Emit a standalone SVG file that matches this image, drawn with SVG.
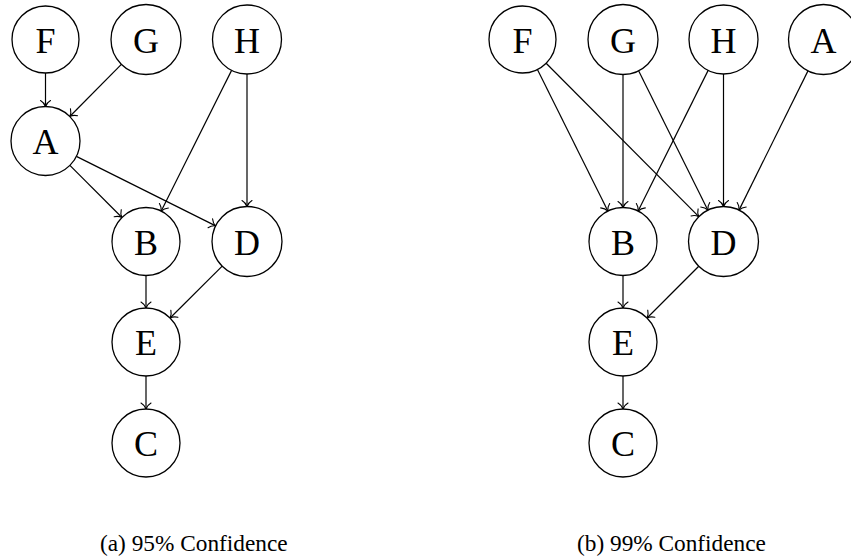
<svg xmlns="http://www.w3.org/2000/svg" width="851" height="559" viewBox="0 0 851 559">
<style>
.node circle{fill:#fff;stroke:#000;stroke-width:1.3}
.node text{font-family:"Liberation Serif","Times New Roman",serif;font-size:36px;text-anchor:middle;fill:#000}
.edges line{stroke:#000;stroke-width:1.2;marker-end:url(#arr)}
.cap{font-family:"Liberation Serif","Times New Roman",serif;font-size:23.3px;fill:#000}
</style>
<defs>
<marker id="arr" markerUnits="userSpaceOnUse" viewBox="-8 -7 10 14" refX="0" refY="0" markerWidth="10" markerHeight="14" orient="auto" overflow="visible">
<path d="M -6,-5 C -4,-1.6 -1.2,-0.4 0,0 C -1.2,0.4 -4,1.6 -6,5" fill="none" stroke="#000" stroke-width="1.1" stroke-linecap="round"/>
</marker>
</defs>
<g id="connectors" class="edges">
<line x1="45.5" y1="73" x2="45.5" y2="106.5"/>
<line x1="121.37" y1="64.37" x2="69.77" y2="116.48"/>
<line x1="231.57" y1="70.36" x2="161.2" y2="211.09"/>
<line x1="247" y1="74" x2="247" y2="206.5"/>
<line x1="69.9" y1="165.4" x2="121.96" y2="217.46"/>
<line x1="76.37" y1="156.4" x2="215.68" y2="225.88"/>
<line x1="146" y1="275.5" x2="146" y2="308"/>
<line x1="222.19" y1="266.19" x2="170.1" y2="318.02"/>
<line x1="146" y1="376" x2="146" y2="409"/>
<line x1="537.42" y1="69.49" x2="607.86" y2="211.06"/>
<line x1="546.13" y1="63.25" x2="698.81" y2="216.69"/>
<line x1="623" y1="74.5" x2="623" y2="207.5"/>
<line x1="638.59" y1="70.84" x2="707.91" y2="210.16"/>
<line x1="708.13" y1="70.39" x2="638.14" y2="211.06"/>
<line x1="723.5" y1="74" x2="723.5" y2="206.5"/>
<line x1="807.97" y1="70.87" x2="739.03" y2="210.13"/>
<line x1="623" y1="275.5" x2="623" y2="308"/>
<line x1="698.75" y1="266.25" x2="647.04" y2="317.96"/>
<line x1="623" y1="376" x2="623" y2="409"/>
</g>
<g id="a-F" class="node"><circle cx="45.5" cy="39.5" r="33.5"/><text x="45.5" y="52.5">F</text></g>
<g id="a-G" class="node"><circle cx="146" cy="39.5" r="35"/><text x="146" y="52.5">G</text></g>
<g id="a-H" class="node"><circle cx="247" cy="39.5" r="34.5"/><text x="247" y="52.5">H</text></g>
<g id="a-A" class="node"><circle cx="45.5" cy="141" r="34.5"/><text x="45.5" y="154">A</text></g>
<g id="a-B" class="node"><circle cx="146" cy="241.5" r="34"/><text x="146" y="254.5">B</text></g>
<g id="a-D" class="node"><circle cx="247" cy="241.5" r="35"/><text x="247" y="254.5">D</text></g>
<g id="a-E" class="node"><circle cx="146" cy="342" r="34"/><text x="146" y="355">E</text></g>
<g id="a-C" class="node"><circle cx="146" cy="443" r="34"/><text x="146" y="456">C</text></g>
<g id="b-F" class="node"><circle cx="522.5" cy="39.5" r="33.5"/><text x="522.5" y="52.5">F</text></g>
<g id="b-G" class="node"><circle cx="623" cy="39.5" r="35"/><text x="623" y="52.5">G</text></g>
<g id="b-H" class="node"><circle cx="723.5" cy="39.5" r="34.5"/><text x="723.5" y="52.5">H</text></g>
<g id="b-A" class="node"><circle cx="823.5" cy="39.5" r="35"/><text x="823.5" y="52.5">A</text></g>
<g id="b-B" class="node"><circle cx="623" cy="241.5" r="34"/><text x="623" y="254.5">B</text></g>
<g id="b-D" class="node"><circle cx="723.5" cy="241.5" r="35"/><text x="723.5" y="254.5">D</text></g>
<g id="b-E" class="node"><circle cx="623" cy="342" r="34"/><text x="623" y="355">E</text></g>
<g id="b-C" class="node"><circle cx="623" cy="443" r="34"/><text x="623" y="456">C</text></g>
<g id="captions">
<text class="cap" x="100" y="551">(a) 95% Confidence</text>
<text class="cap" x="577" y="551">(b) 99% Confidence</text>
</g>
</svg>
